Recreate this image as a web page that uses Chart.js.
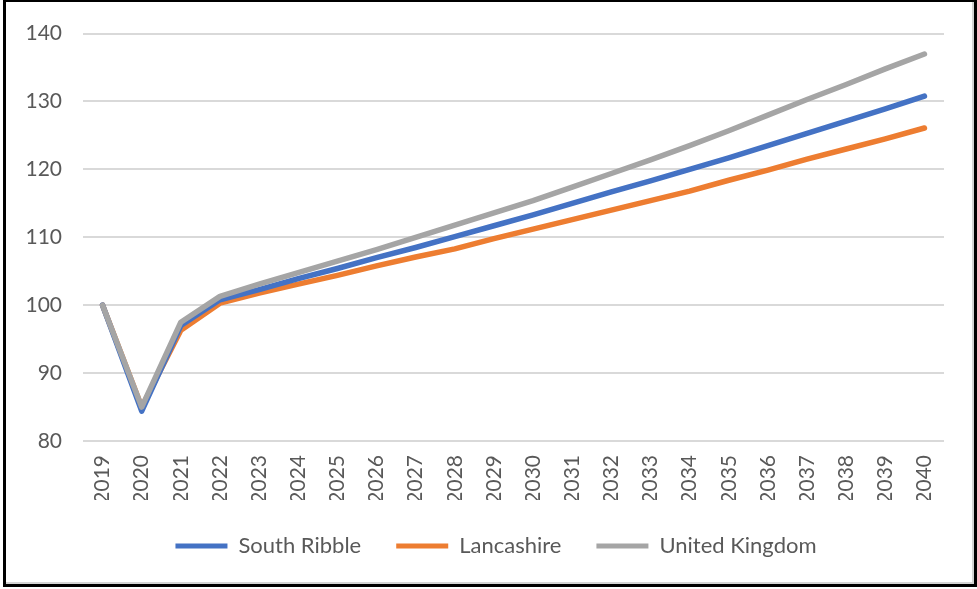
<!DOCTYPE html>
<html>
<head>
<meta charset="utf-8">
<script src="https://cdn.jsdelivr.net/npm/chart.js@4"></script>
<style>
  html, body { margin: 0; padding: 0; background: #fff; }
  #wrap { position: relative; width: 977px; height: 589px; }
  #frame {
    position: absolute; left: 3px; top: 0; width: 974px; height: 587px;
    box-sizing: border-box; border: 3px solid #000; border-top-width: 2px;
    box-shadow: inset -2px -2px 0 #d4d4d4; pointer-events: none;
  }
</style>
</head>
<body>
<div id="wrap">
  <canvas id="c" width="977" height="589"></canvas>
  <div id="frame"></div>
</div>
<script>
// Index values, 2019 = 100
const years = ['2019','2020','2021','2022','2023','2024','2025','2026','2027','2028','2029',
               '2030','2031','2032','2033','2034','2035','2036','2037','2038','2039','2040'];
const southRibble = [100, 84.4, 97.0, 100.8, 102.3, 103.9, 105.4, 107.0, 108.5, 110.1, 111.7,
                     113.3, 115.0, 116.7, 118.3, 120.0, 121.7, 123.5, 125.3, 127.1, 128.9, 130.8];
const lancashire  = [100, 85.0, 96.3, 100.3, 101.8, 103.1, 104.4, 105.8, 107.1, 108.3, 109.8,
                     111.2, 112.6, 114.0, 115.4, 116.8, 118.4, 119.9, 121.5, 123.0, 124.5, 126.1];
const unitedKingdom = [100, 85.0, 97.5, 101.3, 103.1, 104.8, 106.5, 108.2, 110.0, 111.8, 113.6,
                       115.4, 117.4, 119.4, 121.4, 123.5, 125.7, 128.0, 130.3, 132.5, 134.8, 137.0];
const yTicks = [80, 90, 100, 110, 120, 130, 140];

const FONT = 'Lato';
const TEXT = '#595959';

function series(label, data, color, order) {
  return {
    label, data, order,
    borderColor: color, backgroundColor: color,
    borderWidth: 5.5, pointRadius: 0, pointHoverRadius: 0,
    tension: 0, borderCapStyle: 'round', borderJoinStyle: 'round', fill: false
  };
}

// Nudge the legend row to the right so it sits under the middle of the plot
const legendShift = {
  id: 'legendShift',
  afterLayout(chart) {
    const lg = chart.legend;
    if (lg) { lg.left += 24; lg.right += 24; }
  }
};

new Chart(document.getElementById('c'), {
  type: 'line',
  data: {
    labels: years,
    datasets: [
      series('South Ribble', southRibble, '#4472C4', 1),
      series('Lancashire', lancashire, '#ED7D31', 2),
      series('United Kingdom', unitedKingdom, '#A5A5A5', 0)
    ]
  },
  plugins: [legendShift],
  options: {
    responsive: false,
    animation: false,
    layout: { padding: { left: 0, right: 33, top: 33, bottom: 22 } },
    plugins: {
      tooltip: { enabled: false },
      legend: {
        position: 'bottom',
        labels: {
          font: { family: FONT, size: 22 },
          color: TEXT,
          boxWidth: 52,
          boxHeight: 5,
          padding: 35,
          useBorderRadius: true,
          borderRadius: 2.5,
          sort: (a, b) => a.datasetIndex - b.datasetIndex,
          generateLabels: (chart) => chart.data.datasets.map((ds, i) => ({
            text: ds.label, fillStyle: ds.borderColor, strokeStyle: ds.borderColor,
            lineWidth: 0, datasetIndex: i, hidden: false, fontColor: TEXT
          }))
        }
      }
    },
    scales: {
      x: {
        offset: true,
        grid: { display: false, drawTicks: false },
        border: { display: false },
        ticks: {
          font: { family: FONT, size: 21 }, color: TEXT,
          minRotation: 90, maxRotation: 90, autoSkip: false, padding: 14
        },
        afterFit: (s) => { s.height = 59; }
      },
      y: {
        min: 80, max: 140,
        afterBuildTicks: (s) => { s.ticks = yTicks.map(v => ({ value: v })); },
        grid: { color: '#D9D9D9', lineWidth: 2, drawTicks: false },
        border: { display: false },
        ticks: { font: { family: FONT, size: 21 }, color: TEXT, padding: 21 },
        afterFit: (s) => { s.width = 83; }
      }
    }
  }
});
</script>
</body>
</html>
